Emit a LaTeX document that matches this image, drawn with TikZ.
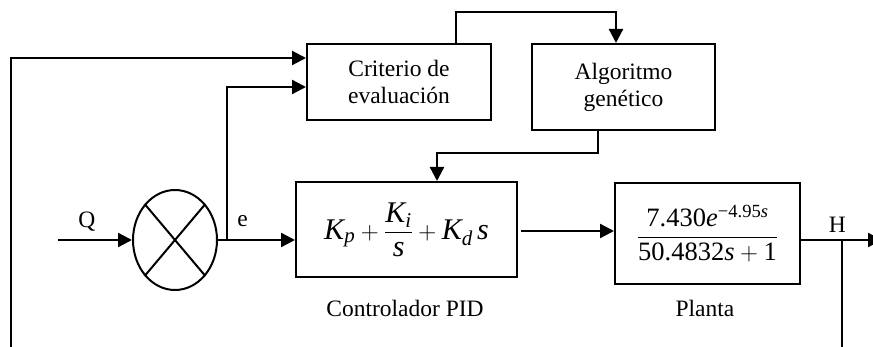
\documentclass[tikz,border=0pt]{standalone}
\usepackage{amsmath}
\usepackage{fontspec}
\setmainfont{Liberation Serif}
\usetikzlibrary{shapes.geometric,arrows.meta,positioning,calc}
\newcommand{\vi}[1]{\textit{#1}}

\begin{document}
\begin{tikzpicture}[
    x=1pt, y=-1pt,
    block/.style={rectangle, draw, line width=2pt, align=center, inner sep=0pt, font=\fontsize{23.5}{27}\selectfont},
    arrow/.style={-{Triangle[length=14pt, width=14pt]}, line width=2.3pt},
    wire/.style={line width=2.3pt},
    lbl/.style={font=\fontsize{23.5}{27}\selectfont, inner sep=0pt, anchor=base}
]
    \useasboundingbox (0,0) rectangle (873,347);

    % Blocks
    \node[block, minimum width=184pt, minimum height=76pt] (crit) at (399,82) {Criterio de\\evaluación};
    \node[block, minimum width=183pt, minimum height=86pt] (alg) at (623.5,87) {Algoritmo\\genético};
    \node[block, minimum width=221pt, minimum height=95pt, font=\fontsize{30}{36}\selectfont] (pid) at (406.5,229.5)
        {$\vi{K}_{\vi{p}} + \dfrac{\vi{K}_{\vi{i}}}{\vi{s}} + \vi{K}_{\vi{d}}\,\vi{s}$};
    \node[block, minimum width=185pt, minimum height=101pt, font=\fontsize{26.5}{32}\selectfont] (plant) at (707.5,233.5)
        {$\dfrac{\text{7.430}\vi{e}^{\text{−4.95}\vi{s}}}{\text{50.4832}\vi{s} + \text{1}}$};

    % Summing point
    \node[ellipse, draw, line width=2pt, minimum width=84pt, minimum height=100pt, inner sep=0pt] (sum) at (175,240) {};
    \draw[line width=2pt] (sum.north west) -- (sum.south east) (sum.north east) -- (sum.south west);

    % Corner points
    \coordinate (qin) at (58,240);
    \coordinate (jn) at (227,240);
    \coordinate (c1) at (456,12);
    \coordinate (c2) at (598,153);
    \coordinate (hout) at (882,240);
    \coordinate (fbr) at (842,352);
    \coordinate (fbl) at (11,352);

    % Connections
    \draw[arrow] (qin) -- node[lbl, pos=0.39, yshift=12pt] {Q} (sum.west);
    \draw[arrow] (sum.east) -- node[lbl, pos=0.32, yshift=13pt] {e} (sum.east -| pid.west);
    \draw[arrow] (jn) |- ([yshift=-5pt]crit.west);
    \draw[arrow] (crit.north -| c1) -- (c1) -| ([xshift=-7.5pt]alg.north);
    \draw[arrow] (alg.south -| c2) -- (c2) -| ([xshift=30.5pt]pid.north);
    \draw[arrow] ([xshift=3pt,yshift=-1.5pt]pid.east) -- ([yshift=2.5pt]plant.west);
    \draw[arrow] (plant.east |- hout) -- node[lbl, pos=0.45, yshift=7pt] {H} (hout);
    \draw[wire] (fbr |- hout) -- (fbr);
    \draw[arrow] (fbl) |- ([yshift=24pt]crit.west);

    % Captions
    \node[lbl] (pidname) at (405,317) {Controlador PID};
    \node[lbl] (plantname) at (705,317) {Planta};
\end{tikzpicture}
\end{document}
